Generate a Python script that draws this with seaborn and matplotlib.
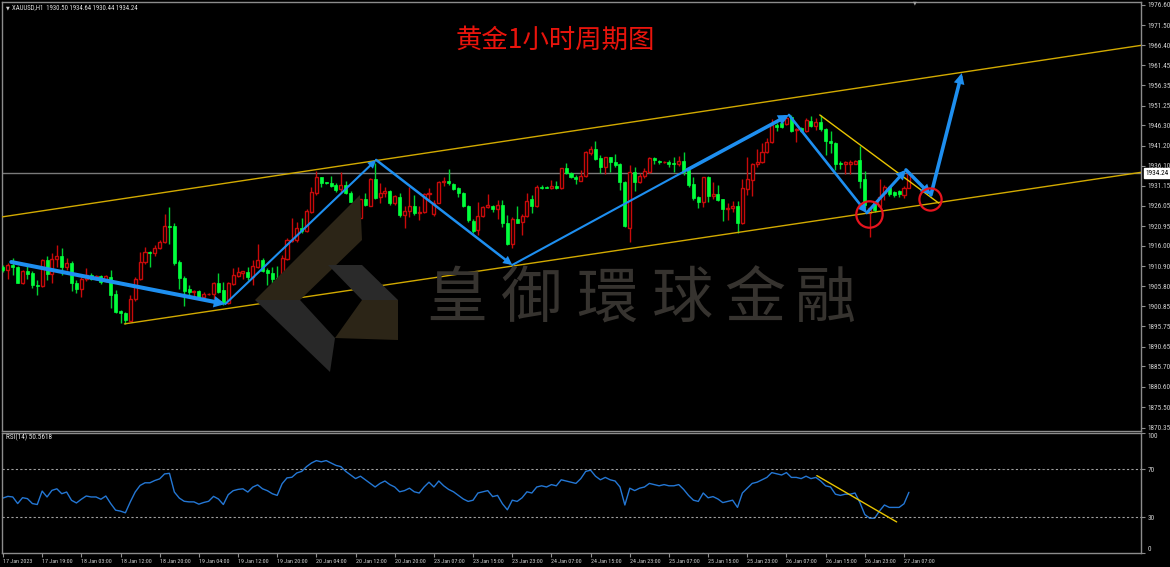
import numpy as np
import matplotlib
matplotlib.use("Agg")
import matplotlib.pyplot as plt
import matplotlib.transforms as mtransforms
from matplotlib import font_manager as fm
from matplotlib.patches import Polygon
import seaborn as sns

# ---------------- data ----------------
opens = [1910.8, 1909.9, 1911.2, 1910.8, 1906.8, 1909.7, 1909.3, 1906.2, 1905.8, 1912.5,
         1908.9, 1912.6, 1913.5, 1910.8, 1911.8, 1906.8, 1905.1, 1907.6, 1908.8, 1907.8,
         1908.4, 1907.3, 1908.3, 1903.8, 1899.6, 1899.1, 1897.2, 1902.6, 1907.6, 1911.9,
         1914.55, 1914.1, 1915.4, 1917.1, 1921.0, 1921.0, 1911.9, 1908.0, 1905.1, 1904.5,
         1904.75, 1903.2, 1903.9, 1904.0, 1906.6, 1904.9, 1901.6, 1906.4, 1908.4, 1909.3,
         1909.35, 1908.3, 1910.8, 1912.45, 1910.0, 1909.1, 1908.0, 1907.6, 1912.7, 1917.3,
         1917.5, 1920.4, 1919.8, 1924.6, 1929.2, 1933.2, 1932.0, 1931.9, 1931.3, 1930.2,
         1931.3, 1929.4, 1927.4, 1923.1, 1927.7, 1926.1, 1932.8, 1928.2, 1929.2, 1929.8,
         1926.7, 1928.4, 1923.8, 1924.85, 1926.0, 1924.35, 1924.6, 1929.0, 1924.0, 1926.9,
         1932.0, 1932.3, 1931.55, 1930.5, 1929.4, 1926.0, 1922.3, 1920.0, 1923.6, 1925.7,
         1926.0, 1925.2, 1926.4, 1921.7, 1916.5, 1922.75, 1921.9, 1923.6, 1927.7, 1925.9,
         1930.9, 1930.9, 1930.46, 1931.05, 1930.46, 1935.5, 1934.4, 1933.2, 1932.3, 1933.6,
         1939.3, 1940.3, 1938.2, 1935.7, 1938.25, 1937.0, 1936.5, 1932.1, 1920.6, 1934.65,
         1932.1, 1933.65, 1934.65, 1938.0, 1937.4, 1937.0, 1937.2, 1936.74, 1936.5, 1937.3,
         1935.07, 1931.55, 1928.4, 1927.1, 1933.2, 1928.6, 1928.95, 1927.7, 1925.2, 1925.6,
         1926.1, 1921.65, 1930.3, 1932.56, 1936.5, 1937.0, 1939.7, 1942.0, 1946.5, 1946.8,
         1946.63, 1948.5, 1945.1, 1945.5, 1944.95, 1947.5, 1946.13, 1947.2, 1945.3, 1942.4,
         1941.8, 1936.9, 1936.6, 1936.6, 1936.6, 1937.6, 1932.8, 1924.2, 1926.7, 1926.0,
         1929.2, 1930.9, 1929.5, 1929.9, 1928.8, 1930.50]
highs = [1911.2, 1911.6, 1912.9, 1911.0, 1910.0, 1911.2, 1909.8, 1907.4, 1912.7, 1913.5,
         1914.1, 1916.2, 1915.4, 1912.9, 1912.1, 1907.4, 1908.3, 1910.5, 1909.2, 1908.8,
         1908.8, 1908.8, 1909.9, 1904.9, 1899.9, 1899.5, 1903.6, 1908.3, 1914.4, 1915.6,
         1914.6, 1916.2, 1917.5, 1924.0, 1925.7, 1921.7, 1912.5, 1908.4, 1906.2, 1904.9,
         1905.0, 1904.5, 1904.2, 1907.0, 1909.1, 1907.0, 1907.0, 1910.4, 1910.6, 1909.8,
         1910.8, 1912.45, 1916.5, 1912.9, 1910.4, 1910.8, 1910.9, 1913.7, 1917.9, 1922.9,
         1922.1, 1922.9, 1925.2, 1930.9, 1934.9, 1933.4, 1932.0, 1933.55, 1931.9, 1934.5,
         1932.4, 1929.9, 1927.6, 1927.9, 1929.2, 1933.0, 1936.9, 1931.7, 1930.9, 1930.0,
         1928.8, 1929.2, 1926.0, 1930.9, 1928.8, 1926.0, 1929.2, 1930.5, 1927.5, 1932.3,
         1933.4, 1935.2, 1931.7, 1930.9, 1929.6, 1926.3, 1922.7, 1927.1, 1926.0, 1929.04,
         1926.3, 1927.5, 1927.5, 1923.8, 1923.3, 1926.0, 1924.0, 1929.4, 1928.8, 1931.3,
         1931.3, 1931.0, 1932.55, 1932.4, 1935.65, 1936.9, 1934.6, 1933.8, 1935.07, 1939.84,
         1941.2, 1942.35, 1938.8, 1938.4, 1938.4, 1939.0, 1936.74, 1932.3, 1936.3, 1935.9,
         1934.4, 1935.5, 1938.25, 1938.25, 1937.6, 1937.3, 1937.7, 1938.4, 1938.67, 1939.7,
         1935.5, 1933.4, 1928.6, 1933.4, 1933.56, 1932.1, 1931.3, 1927.9, 1926.7, 1927.2,
         1927.3, 1932.8, 1938.4, 1936.74, 1940.3, 1941.8, 1943.2, 1947.9, 1946.8, 1947.0,
         1948.9, 1948.9, 1945.5, 1945.96, 1948.05, 1948.6, 1948.05, 1948.9, 1945.5, 1944.9,
         1942.2, 1937.3, 1937.3, 1937.6, 1937.6, 1941.1, 1934.7, 1925.86, 1927.0, 1932.7,
         1931.3, 1931.05, 1929.9, 1930.05, 1931.05, 1934.64]
lows = [1909.5, 1907.8, 1908.7, 1906.6, 1906.5, 1907.8, 1905.3, 1903.7, 1905.6, 1907.4,
        1906.6, 1910.8, 1908.7, 1909.9, 1904.75, 1904.25, 1903.25, 1907.2, 1907.4, 1907.5,
        1906.5, 1906.9, 1900.3, 1899.1, 1896.7, 1896.4, 1897.1, 1902.2, 1907.4, 1911.5,
        1910.8, 1913.5, 1915.1, 1916.8, 1916.5, 1911.2, 1905.1, 1900.9, 1903.7, 1903.25,
        1902.6, 1902.8, 1903.7, 1902.6, 1904.1, 1901.1, 1901.4, 1906.2, 1908.1, 1907.8,
        1907.4, 1906.2, 1910.4, 1909.5, 1906.2, 1906.2, 1907.4, 1906.2, 1912.45, 1917.05,
        1917.05, 1919.15, 1919.6, 1924.2, 1928.8, 1930.9, 1931.5, 1930.9, 1929.6, 1929.2,
        1929.0, 1927.1, 1923.2, 1922.9, 1925.9, 1925.9, 1927.7, 1926.7, 1928.4, 1926.3,
        1926.3, 1923.3, 1920.4, 1923.3, 1923.8, 1922.5, 1924.2, 1927.5, 1923.5, 1926.7,
        1931.0, 1931.3, 1930.0, 1928.4, 1925.7, 1922.1, 1919.2, 1918.7, 1923.3, 1925.4,
        1924.6, 1922.7, 1920.8, 1916.2, 1915.4, 1921.7, 1918.7, 1923.3, 1924.35, 1925.7,
        1930.3, 1930.5, 1930.3, 1930.3, 1930.3, 1934.07, 1933.0, 1931.55, 1932.2, 1933.4,
        1938.8, 1937.6, 1934.2, 1934.0, 1934.65, 1935.9, 1930.0, 1920.83, 1916.9, 1929.9,
        1931.7, 1933.0, 1934.2, 1936.6, 1936.5, 1936.9, 1935.9, 1934.65, 1936.16, 1933.8,
        1930.9, 1927.5, 1925.4, 1925.85, 1927.1, 1927.8, 1927.3, 1922.25, 1922.5, 1924.6,
        1919.3, 1921.4, 1928.8, 1928.6, 1935.9, 1936.74, 1939.3, 1941.8, 1944.9, 1945.5,
        1946.4, 1944.7, 1942.2, 1944.7, 1944.7, 1945.96, 1945.1, 1944.95, 1938.85, 1939.3,
        1935.1, 1935.2, 1934.1, 1934.1, 1936.6, 1930.5, 1925.4, 1918.3, 1924.5, 1925.86,
        1927.5, 1928.5, 1928.2, 1928.2, 1927.95, 1930.44]
closes = [1909.9, 1911.2, 1910.6, 1906.8, 1909.8, 1908.9, 1906.2, 1905.8, 1912.5, 1908.9,
          1912.7, 1913.5, 1910.6, 1911.8, 1906.6, 1905.1, 1907.6, 1908.7, 1907.8, 1908.4,
          1907.0, 1908.4, 1903.7, 1899.5, 1899.1, 1897.4, 1902.6, 1907.6, 1911.9, 1914.55,
          1914.1, 1915.4, 1917.1, 1921.0, 1920.8, 1911.8, 1908.0, 1904.75, 1904.5, 1904.75,
          1903.0, 1903.9, 1904.0, 1906.6, 1904.5, 1901.6, 1906.6, 1908.7, 1909.5, 1909.7,
          1908.1, 1910.9, 1912.45, 1909.8, 1909.1, 1907.6, 1907.6, 1912.9, 1917.5, 1917.6,
          1920.4, 1919.7, 1924.8, 1929.45, 1933.2, 1931.9, 1931.7, 1931.1, 1930.0, 1931.3,
          1929.2, 1927.1, 1923.3, 1927.7, 1926.3, 1932.8, 1928.1, 1929.2, 1929.8, 1926.7,
          1928.5, 1923.8, 1924.85, 1926.0, 1924.35, 1924.6, 1929.0, 1929.2, 1926.9, 1932.1,
          1932.3, 1931.7, 1930.3, 1929.2, 1925.9, 1922.5, 1919.8, 1923.6, 1925.7, 1926.3,
          1925.2, 1926.3, 1921.7, 1916.5, 1922.75, 1921.8, 1923.6, 1927.4, 1925.9, 1930.9,
          1930.6, 1930.6, 1931.05, 1930.46, 1935.5, 1934.4, 1933.2, 1932.7, 1933.6, 1939.5,
          1940.3, 1937.8, 1935.7, 1938.25, 1937.0, 1936.3, 1932.1, 1921.0, 1934.65, 1932.1,
          1933.65, 1934.8, 1938.0, 1937.6, 1937.0, 1937.2, 1936.6, 1936.5, 1937.3, 1934.65,
          1931.3, 1928.1, 1927.1, 1933.2, 1928.5, 1928.95, 1927.5, 1925.2, 1925.6, 1926.1,
          1921.8, 1930.5, 1932.8, 1936.5, 1937.0, 1939.7, 1942.0, 1946.4, 1945.96, 1945.96,
          1948.05, 1944.9, 1945.3, 1944.9, 1947.6, 1946.13, 1947.2, 1945.3, 1942.4, 1941.8,
          1936.5, 1936.6, 1937.08, 1937.17, 1937.3, 1932.3, 1926.3, 1925.4, 1925.0, 1928.4,
          1930.9, 1929.04, 1928.8, 1929.04, 1930.5, 1934.24]
rsi_values = [45.8, 47.2, 46.7, 41.2, 46.1, 45.3, 41.2, 40.4, 51.6, 46.7,
              52.2, 53.5, 49.4, 50.8, 43.9, 41.7, 44.8, 47.5, 46.7, 46.7,
              44.8, 47.5, 41.2, 35.7, 34.9, 33.5, 42.6, 50.8, 56.3, 58.5,
              58.5, 60.4, 61.8, 65.9, 66.4, 50.8, 45.8, 43.1, 42.6, 42.6,
              40.7, 42.1, 43.1, 47.2, 45.0, 40.4, 48.6, 51.9, 53.0, 53.5,
              50.8, 54.9, 56.8, 53.5, 51.9, 49.4, 48.0, 57.7, 62.6, 63.1,
              66.7, 68, 72, 75, 77, 76, 77, 75, 73, 72,
              68, 65, 62, 64, 61, 58, 55, 58, 60, 57,
              55, 51, 52, 54, 51, 50, 55, 59, 55, 60,
              56, 53, 51, 48, 45, 43, 44, 50, 51, 52,
              47, 48, 41, 36, 44, 43, 46, 51, 50, 55,
              56, 55, 57, 56, 61, 60, 59, 58, 62, 68,
              69, 64, 61, 63, 61, 60, 55, 40, 54, 52,
              54, 55, 58, 57, 56, 57, 56, 56, 57, 53,
              48, 44, 43, 50, 46, 47, 45, 42, 43, 44,
              38, 50, 54, 58, 59, 61, 63, 67, 66, 65,
              67, 63, 63, 62, 64, 62, 63, 60, 56, 55,
              49, 48, 49, 49, 50, 42, 32, 29, 29, 35,
              40, 38, 38, 38, 41, 50.5618]
time_labels = ['17 Jan 2023', '17 Jan 19:00', '18 Jan 03:00', '18 Jan 12:00', '18 Jan 20:00',
               '19 Jan 04:00', '19 Jan 12:00', '19 Jan 20:00', '20 Jan 04:00', '20 Jan 12:00',
               '20 Jan 20:00', '23 Jan 07:00', '23 Jan 15:00', '23 Jan 23:00', '24 Jan 07:00',
               '24 Jan 15:00', '24 Jan 23:00', '25 Jan 07:00', '25 Jan 15:00', '25 Jan 23:00',
               '26 Jan 07:00', '26 Jan 15:00', '26 Jan 23:00', '27 Jan 07:00']
price_ticks = [1976.60, 1971.50, 1966.40, 1961.45, 1956.35, 1951.25, 1946.30, 1941.20,
               1936.10, 1931.15, 1926.05, 1920.95, 1916.00, 1910.90, 1905.80, 1900.85,
               1895.75, 1890.65, 1885.70, 1880.60, 1875.50, 1870.35]
rsi_ticks = [100, 70, 30, 0]
current_price = 1934.24

# trader annotations (bar index, price)
channel_upper = ([-0.1, 232.5], [1923.3, 1966.4])
channel_lower = ([24.8, 232.5], [1896.4, 1934.5])
resistance_line = ([166.8, 191.1], [1948.9, 1926.75])
rsi_trend = ([166.2, 182.5], [64.5, 25.9])
zigzag_bars = [1.7, 45.4, 76.2, 104.0, 139.7, 160.5, 176.4, 184.4, 189.5, 195.8]
zigzag_prices = [1911.95, 1901.4, 1937.6, 1911.2, 1935.1, 1948.9, 1924.3, 1935.1, 1928.8, 1959.4]
zigzag_widths = [2.9, 1.5, 1.8, 1.5, 2.6, 1.9, 2.2, 2.5, 2.6]
zigzag_heads = [True, True, True, False, True, True, True, True, True]
circle_bars = [176.8, 189.4]
circle_prices = [1924.0, 1927.8]
circle_sizes = [19, 16]

title_text = "黄金1小时周期图"
watermark = "皇御環球金融"

# ---------------- style ----------------
sns.set_theme(style="dark", rc={"axes.facecolor": "black", "figure.facecolor": "black",
                                 "axes.edgecolor": "#8c8c8c", "axes.grid": False})


def has_font(name):
    try:
        fm.findfont(fm.FontProperties(family=name), fallback_to_default=False)
        return True
    except Exception:
        return False


narrow_font = None
for cand in ["Liberation Sans Narrow", "Roboto Condensed", "DejaVu Sans Condensed"]:
    if has_font(cand):
        narrow_font = cand
        break
if narrow_font:
    SMALL = narrow_font
    PSIZE, XSIZE = 5.2, 4.3
else:
    SMALL = "Liberation Sans" if has_font("Liberation Sans") else "DejaVu Sans"
    PSIZE, XSIZE = 4.5, 3.7
plt.rcParams['font.family'] = [SMALL, 'DejaVu Sans']

RED = "#c80a0a"
GREEN = "#00ff3c"
GREEN_W = "#00d232"
BLUE = "#1e8ff0"
YEL = "#d2aa00"
LBL = "#d0d0d0"

W, H = 1170, 567
fig = plt.figure(figsize=(W / 100, H / 100), dpi=100)
fig.patch.set_facecolor("black")


def fx(x):
    return x / W


def fy(y):
    return 1 - y / H


ax = fig.add_axes([fx(2), fy(431), fx(1141) - fx(2), fy(2) - fy(431)])
ax2 = fig.add_axes([fx(2), fy(553), fx(1141) - fx(2), fy(433) - fy(553)])
for a in (ax, ax2):
    a.set_facecolor("black")
    for s in a.spines.values():
        s.set_color("#8c8c8c")
        s.set_linewidth(1)
    a.set_xlim(-0.2, 232.4)

# ---------------- watermark (decoration) ----------------
logo_parts = [
    ([(255, 300), (360, 195), (362, 240), (300, 300)], "#2c2517"),
    ([(255, 300), (300, 300), (335, 338), (330, 372)], "#282828"),
    ([(328, 265), (362, 265), (398, 300), (362, 300)], "#2a2a2a"),
    ([(335, 338), (362, 300), (398, 300), (398, 340)], "#2c2517"),
]
for pts, col in logo_parts:
    fig.patches.append(Polygon([(fx(x), fy(y)) for x, y in pts], closed=True,
                               transform=fig.transFigure, facecolor=col, edgecolor="none",
                               zorder=0.5))
wm_x = [457, 532, 607, 682, 755, 825]
for ch, xx in zip(watermark, wm_x):
    fig.text(fx(xx), fy(300), ch, fontsize=44, color="#36332f", ha="center", va="center",
             family=["Noto Sans CJK TC", "Noto Sans CJK SC"], zorder=0.6)

# ---------------- candles ----------------
o = np.asarray(opens)
h = np.asarray(highs)
l = np.asarray(lows)
c = np.asarray(closes)
idx = np.arange(len(c))
up = c >= o
bottom = np.minimum(o, c)
height = np.maximum(np.abs(c - o), 0.12)
ax.vlines(idx[up], l[up], h[up], color=RED, lw=1, zorder=3)
ax.vlines(idx[~up], l[~up], h[~up], color=GREEN_W, lw=1, zorder=3)
ax.bar(idx[up], height[up], bottom=bottom[up], width=0.62, facecolor="black",
       edgecolor=RED, linewidth=1, zorder=4)
ax.bar(idx[~up], height[~up], bottom=bottom[~up], width=0.62, facecolor=GREEN,
       edgecolor=GREEN, linewidth=0.5, zorder=4)

ax.axhline(current_price, color="#7a7a7a", lw=1, zorder=2)
ax.plot(*channel_upper, color=YEL, lw=1, zorder=5)
ax.plot(*channel_lower, color=YEL, lw=1, zorder=5)
ax.plot(*resistance_line, color="#e8c400", lw=1, zorder=5)

for i in range(len(zigzag_bars) - 1):
    start = (zigzag_bars[i], zigzag_prices[i])
    end = (zigzag_bars[i + 1], zigzag_prices[i + 1])
    style = "-|>" if zigzag_heads[i] else "-"
    ax.annotate("", xy=end, xytext=start,
                arrowprops=dict(arrowstyle=style, color=BLUE, lw=zigzag_widths[i],
                                shrinkA=0, shrinkB=0, mutation_scale=9,
                                capstyle="round", joinstyle="miter"),
                zorder=6)

for b, p, s in zip(circle_bars, circle_prices, circle_sizes):
    ax.plot([b], [p], marker="o", ms=s, mfc="none", mec="#e8141e", mew=1.6, zorder=7)

ax.set_ylim(1869.49, 1977.28)
ax.yaxis.tick_right()
ax.set_yticks(price_ticks)
ax.set_yticklabels([f"{v:.2f}" for v in price_ticks])
ax.tick_params(axis="y", which="both", right=True, left=False, length=3, width=0.8,
               color="#8c8c8c", labelcolor=LBL, labelsize=PSIZE, pad=1.5)
ax.tick_params(axis="x", bottom=False, labelbottom=False)
ax.set_xlabel("")
ax.set_ylabel("")

tr = mtransforms.blended_transform_factory(ax.transAxes, ax.transData)
ax.text(1.0035, current_price, f"{current_price:.2f}", transform=tr, ha="left", va="center",
        fontsize=PSIZE, color="black", zorder=10, clip_on=False,
        bbox=dict(boxstyle="square,pad=0.2", facecolor="white", edgecolor="white"))

# ---------------- RSI ----------------
sns.lineplot(x=idx, y=np.asarray(rsi_values), ax=ax2, color="#2477d4", lw=1)
ax2.axhline(70, color="#a0a0a0", lw=0.8, ls=(0, (2, 2)))
ax2.axhline(30, color="#a0a0a0", lw=0.8, ls=(0, (2, 2)))
ax2.plot(*rsi_trend, color="#e8c400", lw=1)
ax2.set_ylim(0, 100)
ax2.yaxis.tick_right()
ax2.set_yticks(rsi_ticks)
ax2.set_yticklabels([str(v) for v in rsi_ticks])
ax2.tick_params(axis="y", right=True, left=False, length=3, width=0.8, color="#8c8c8c",
                labelcolor=LBL, labelsize=PSIZE, pad=1.5)
lbls = ax2.get_yticklabels()
lbls[0].set_va("top")
lbls[-1].set_va("bottom")
ax2.set_xticks(idx[::8])
ax2.set_xticklabels(time_labels, ha="left")
ax2.tick_params(axis="x", bottom=True, length=3, width=0.8, color="#8c8c8c",
                labelcolor=LBL, labelsize=XSIZE, pad=1.5)
ax2.set_xlabel("")
ax2.set_ylabel("")

# ---------------- texts ----------------
fig.text(fx(6), fy(8), "▼", fontsize=3.5, color="#d0d0d0", ha="left", va="center",
         family=["DejaVu Sans"])
fig.text(fx(12), fy(8),
         f"XAUUSD,H1  {opens[-1]:.2f} {highs[-1]:.2f} {lows[-1]:.2f} {closes[-1]:.2f}",
         fontsize=PSIZE * 0.93, color="#e0e0e0", ha="left", va="center")
fig.text(fx(6), fy(437), f"RSI(14) {rsi_values[-1]:.4f}", fontsize=PSIZE, color="#e0e0e0",
         ha="left", va="center")
fig.text(fx(915), fy(3), "▼", fontsize=3.5, color="#a0a0a0", ha="center", va="center",
         family=["DejaVu Sans"])
fig.text(fx(555), fy(40), title_text, fontsize=19, color="#e8140c", ha="center",
         va="center", family=["Noto Sans CJK SC", "DejaVu Sans"])

fig.savefig("out.png", dpi=100, facecolor="black")
